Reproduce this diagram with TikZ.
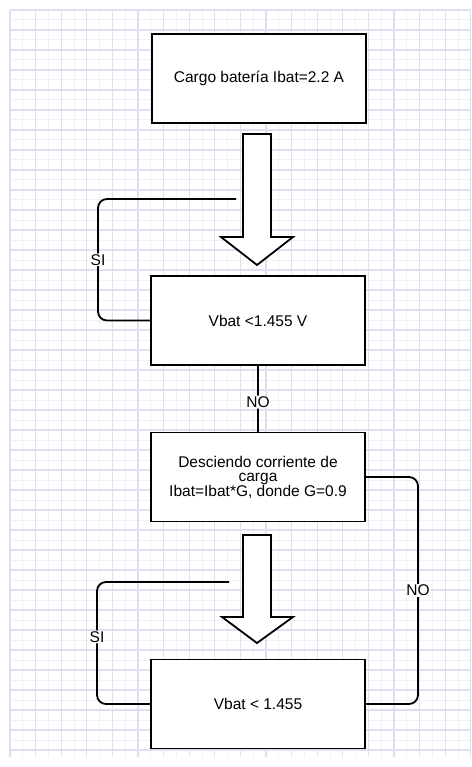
\documentclass[tikz,border=0pt]{standalone}
\usepackage{fontspec}
\setmainfont{Liberation Sans}
\usetikzlibrary{calc}

\definecolor{gridmajor}{RGB}{222,222,245}
\definecolor{gridminor}{RGB}{240,240,251}

\begin{document}
\begin{tikzpicture}[x=1pt, y=-1pt
        , every node/.style={font=\fontsize{15.5}{14.5}\selectfont}
        , proc/.style={draw, line width=1.8pt, fill=white
            , minimum width=214pt, minimum height=89pt
            , inner sep=0pt, align=center}
        , link/.style={line width=1.8pt, rounded corners=9pt}
        , lbl/.style={fill=white, inner sep=1pt}
        , bigarrow/.style={draw, line width=1.8pt, fill=white, line join=miter}
        , minorline/.style={gridminor, line width=1pt}
        , majorline/.style={gridmajor, line width=1.2pt}
    ]

    \useasboundingbox (0,0) rectangle (471,767);
    \fill[white] (0,0) rectangle (471,767);

    %% graph paper behind everything
    \foreach \i in {0,...,36} {
        \draw[minorline] ({10+12.8*\i},10) -- ({10+12.8*\i},757);
    }
    \foreach \j in {0,...,74} {
        \draw[minorline] (10,{10+10*\j}) -- (471,{10+10*\j});
    }
    \foreach \i in {0,2,...,36} {
        \draw[majorline] ({10+12.8*\i},10) -- ({10+12.8*\i},757);
    }
    \foreach \j in {0,2,...,74} {
        \draw[majorline] (10,{10+10*\j}) -- (471,{10+10*\j});
    }

    % process boxes
    \node[proc] (charge) at (259,78.5) {Cargo batería Ibat=2.2 A};
    \node[proc] (check) at (258,320.5) {Vbat <1.455 V};
    \node[proc] (reduce) at (258,477) {Desciendo corriente de\\carga\\Ibat=Ibat*G, donde G=0.9};
    \node[proc] (checkB) at (258,704) {Vbat < 1.455};

    \coordinate (siA) at (236,199);
    \coordinate (siB) at (229,582);

    % loops back with SI / NO
    \draw[link] (siA) -- (98,199) -- node[lbl] {SI} (98,320.5) -- (check.west);
    \draw[link] (check.south) -- node[lbl, pos=0.55] {NO} (reduce.north);
    \draw[link] (reduce.east) -- (418,477) -- node[lbl] {NO} (418,704) -- (checkB.east);
    \draw[link] (siB) -- (97,582) -- node[lbl, pos=0.45] {SI} (97,704) -- (checkB.west);

    %% big hollow arrows
    \draw[bigarrow] (243,134) -- (271,134) -- (271,237) -- (293,237)
        -- (257,265) -- (221,237) -- (243,237) -- cycle;
    \draw[bigarrow] (243,535) -- (271,535) -- (271,617) -- (293,617)
        -- (257,643) -- (222,617) -- (243,617) -- cycle;
\end{tikzpicture}
\end{document}
